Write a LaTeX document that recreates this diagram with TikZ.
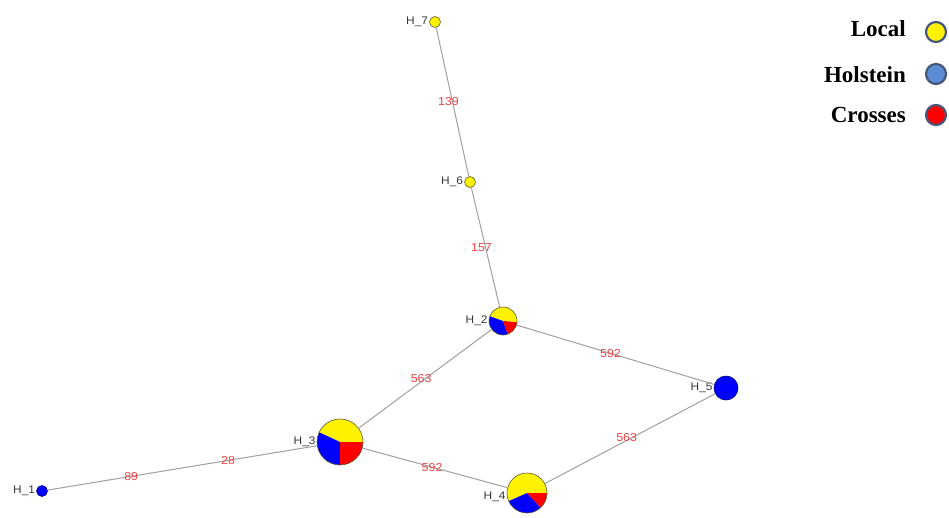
\documentclass[tikz,border=0pt]{standalone}
\usepackage{fontspec}
\newfontfamily\netfont[FakeStretch=1.08]{Liberation Sans}
\newfontfamily\legfont{Liberation Serif}
\definecolor{edgegray}{RGB}{160,160,160}
\definecolor{labred}{RGB}{232,70,70}
\definecolor{labgray}{RGB}{55,55,55}
\definecolor{outl}{RGB}{90,90,50}
\definecolor{legout}{RGB}{70,88,122}
\definecolor{holst}{RGB}{91,141,214}
\newcommand\mypie[3]{\fill[#1] (path picture bounding box.center) -- ++(#2:40pt) arc[start angle=#2,end angle=#3,radius=40pt] -- cycle;}
\begin{document}
\begin{tikzpicture}[x=1pt,y=1pt,
  hap/.style={circle,draw=outl,line width=0.6pt,inner sep=0pt},
  hlab/.style={font=\netfont\fontsize{11}{13}\selectfont,text=labgray,inner sep=1pt},
  elab/.style={font=\netfont\fontsize{11.5}{13}\selectfont,text=labred,inner sep=0pt},
  edge/.style={draw=edgegray,line width=1pt},
  legtext/.style={font=\legfont\bfseries\fontsize{23}{26}\selectfont,text=black,inner sep=0pt},
  legc/.style={circle,draw=legout,line width=2.2pt,minimum size=20pt,inner sep=0pt},
  label distance=0pt]
\useasboundingbox (0,0) rectangle (949,-517);
\fill[white] (0,0) rectangle (949,-517);

% haplotype nodes
\node[hap,fill=yellow,minimum size=11pt,label={[hlab]left:H\_7}] (h7) at (435,-22) {};
\node[hap,fill=yellow,minimum size=11pt,label={[hlab]left:H\_6}] (h6) at (470,-182) {};
\node[hap,fill=blue,draw=blue!50!black,minimum size=11pt,label={[hlab]left:H\_1}] (h1) at (42,-491) {};
\node[hap,fill=blue,draw=blue!50!black,minimum size=24pt,label={[hlab]left:H\_5}] (h5) at (726,-388) {};
\node[hap,minimum size=28pt,label={[hlab]left:H\_2},
  path picture={\mypie{yellow}{-5}{160}\mypie{blue}{160}{290}\mypie{red}{290}{355}}] (h2) at (503,-321) {};
\node[hap,minimum size=46pt,label={[hlab]left:H\_3},
  path picture={\mypie{yellow}{0}{155}\mypie{blue}{155}{270}\mypie{red}{270}{360}}] (h3) at (340,-442) {};
\node[hap,minimum size=40pt,label={[hlab,yshift=-4pt]left:H\_4},
  path picture={\mypie{yellow}{0}{204}\mypie{blue}{204}{313}\mypie{red}{313}{360}}] (h4) at (527,-493) {};

% connectors
\draw[edge] (h7) -- node[elab,pos=0.5,xshift=-4pt] {139} (h6);
\draw[edge] (h6) -- node[elab,pos=0.5,xshift=-4pt] {157} (h2);
\draw[edge] (h2) -- node[elab,pos=0.53,yshift=3pt] {563} (h3);
\draw[edge] (h2) -- node[elab,pos=0.475] {592} (h5);
\draw[edge] (h5) -- node[elab,pos=0.52,yshift=3pt] {563} (h4);
\draw[edge] (h3) -- node[elab,pos=0.48] {592} (h4);
\draw[edge] (h1) -- node[elab,pos=0.31] {89} node[elab,pos=0.67] {28} (h3);

% legend
\node[legtext,anchor=base east] (tloc) at (906,-36) {Local};
\node[legtext,anchor=base east] (thol) at (906,-82) {Holstein};
\node[legtext,anchor=base east] (tcro) at (906,-122) {Crosses};
\node[legc,fill=yellow] (cloc) at (936,-32) {};
\node[legc,fill=holst] (chol) at (936,-74) {};
\node[legc,fill=red] (ccro) at (936,-115) {};
\end{tikzpicture}
\end{document}
